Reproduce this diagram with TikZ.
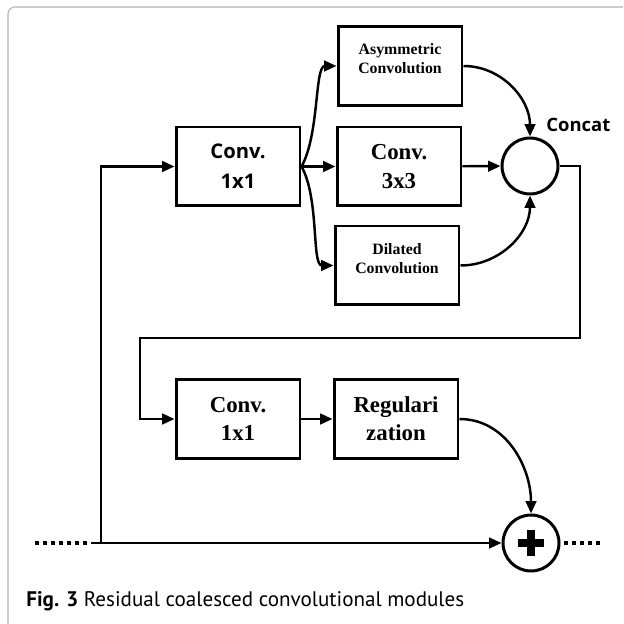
\documentclass[tikz,border=0pt]{standalone}
\usepackage{fontspec}
\setmainfont{Liberation Serif}
\newfontfamily\boxsans{Open Sans}
\newfontfamily\capsans{PT Sans}
\usetikzlibrary{arrows.meta}

\tikzset{
    block/.style = {draw, line width = 1.7pt, minimum width = 2.48cm, minimum height = 1.58cm,
        inner sep = 0pt, align = center, font = \bfseries\fontsize{13}{16}\selectfont},
    smallblock/.style = {block, font = \bfseries\fontsize{9}{10.8}\selectfont},
    smalltext/.style = {inner sep = 0pt, align = center, font = \bfseries\fontsize{9}{10.8}\selectfont},
    sansblock/.style = {block, font = \boxsans\bfseries\fontsize{11.5}{17}\selectfont},
    joint/.style = {draw, circle, line width = 1.7pt, minimum size = 1.12cm, inner sep = 0pt},
    flow/.style = {line width = 1.4pt, -{Triangle[length = 7pt, width = 6pt]}},
    trail/.style = {line width = 2pt, dash pattern = on 2pt off 2.6pt},
}

\begin{document}
\begin{tikzpicture}[x = 0.02cm, y = 0.02cm]
        \useasboundingbox (0,0) rectangle (623,-624);
        \draw [gray!60, line width = 0.6pt, rounded corners = 4pt] (623,-7) -- (8,-7) -- (8,-624);

        % upper stage
        \node [sansblock] (conv1) at (238,-166.5) {Conv.\\1x1};
        \node [smallblock] (asym) at (400,-66) {};
        \node [smalltext] (asymtext) at ([yshift = 4pt] asym.center) {Asymmetric\\Convolution};
        \node [block] (conv3) at (399,-166.5) {Conv.\\3x3};
        \node [smallblock] (dil) at (397,-265.5) {};
        \node [smalltext] (diltext) at ([yshift = 4pt] dil.center) {Dilated\\Convolution};
        \node [joint] (cat) at (530,-166) {};
        \node [anchor = base west, inner sep = 0pt, font = \boxsans\bfseries\fontsize{10.5}{12}\selectfont] (catlabel) at (546,-132) {Concat};

        % lower stage
        \node [block] (conv1b) at (238,-419) {Conv.\\1x1};
        \node [block] (reg) at (396,-419) {Regulari\\zation};
        \node [joint, path picture = {
            \draw [line width = 4.6pt] ([xshift = -7.4pt] path picture bounding box.center) -- ([xshift = 7.4pt] path picture bounding box.center);
            \draw [line width = 4.6pt] ([yshift = -7.4pt] path picture bounding box.center) -- ([yshift = 7.4pt] path picture bounding box.center);
        }] (add) at (531,-543) {};

        \coordinate (dotin) at (35,-543);
        \coordinate (in) at (91,-543);
        \coordinate (tap) at (101,-543);
        \coordinate (dotout) at (603,-543);
        \coordinate (rt) at (580,-338);
        \coordinate (lf) at (140,-338);

        % shortcut and input
        \draw [trail] (dotin) -- (in);
        \draw [flow] (in) -- (add);
        \draw [flow] (tap) |- (conv1);
        \draw [trail] ([xshift = 2pt] add.east) -- (dotout);

        % branches
        \draw [flow] (conv1.east) .. controls +(18,32) and +(-22,0) .. (asym.west);
        \draw [flow] (conv1.east) -- (conv3);
        \draw [flow] (conv1.east) .. controls +(18,-32) and +(-22,0) .. (dil.west);
        \draw [flow] (asym.east) to [out = 0, in = 90] (cat.north);
        \draw [flow] (conv3) -- (cat);
        \draw [flow] (dil.east) to [out = 0, in = -90] (cat.south);

        \draw [flow] (cat.east) -| (rt) -- (lf) |- (conv1b);
        \draw [flow] (conv1b) -- (reg);
        \draw [flow] (reg.east) to [out = 0, in = 90] (add.north);

        \node [anchor = base west, inner sep = 0pt, font = \capsans\fontsize{12}{14}\selectfont] (caption) at (26,-606)
            {\textbf{Fig. 3} Residual coalesced convolutional modules};
    \end{tikzpicture}
\end{document}
